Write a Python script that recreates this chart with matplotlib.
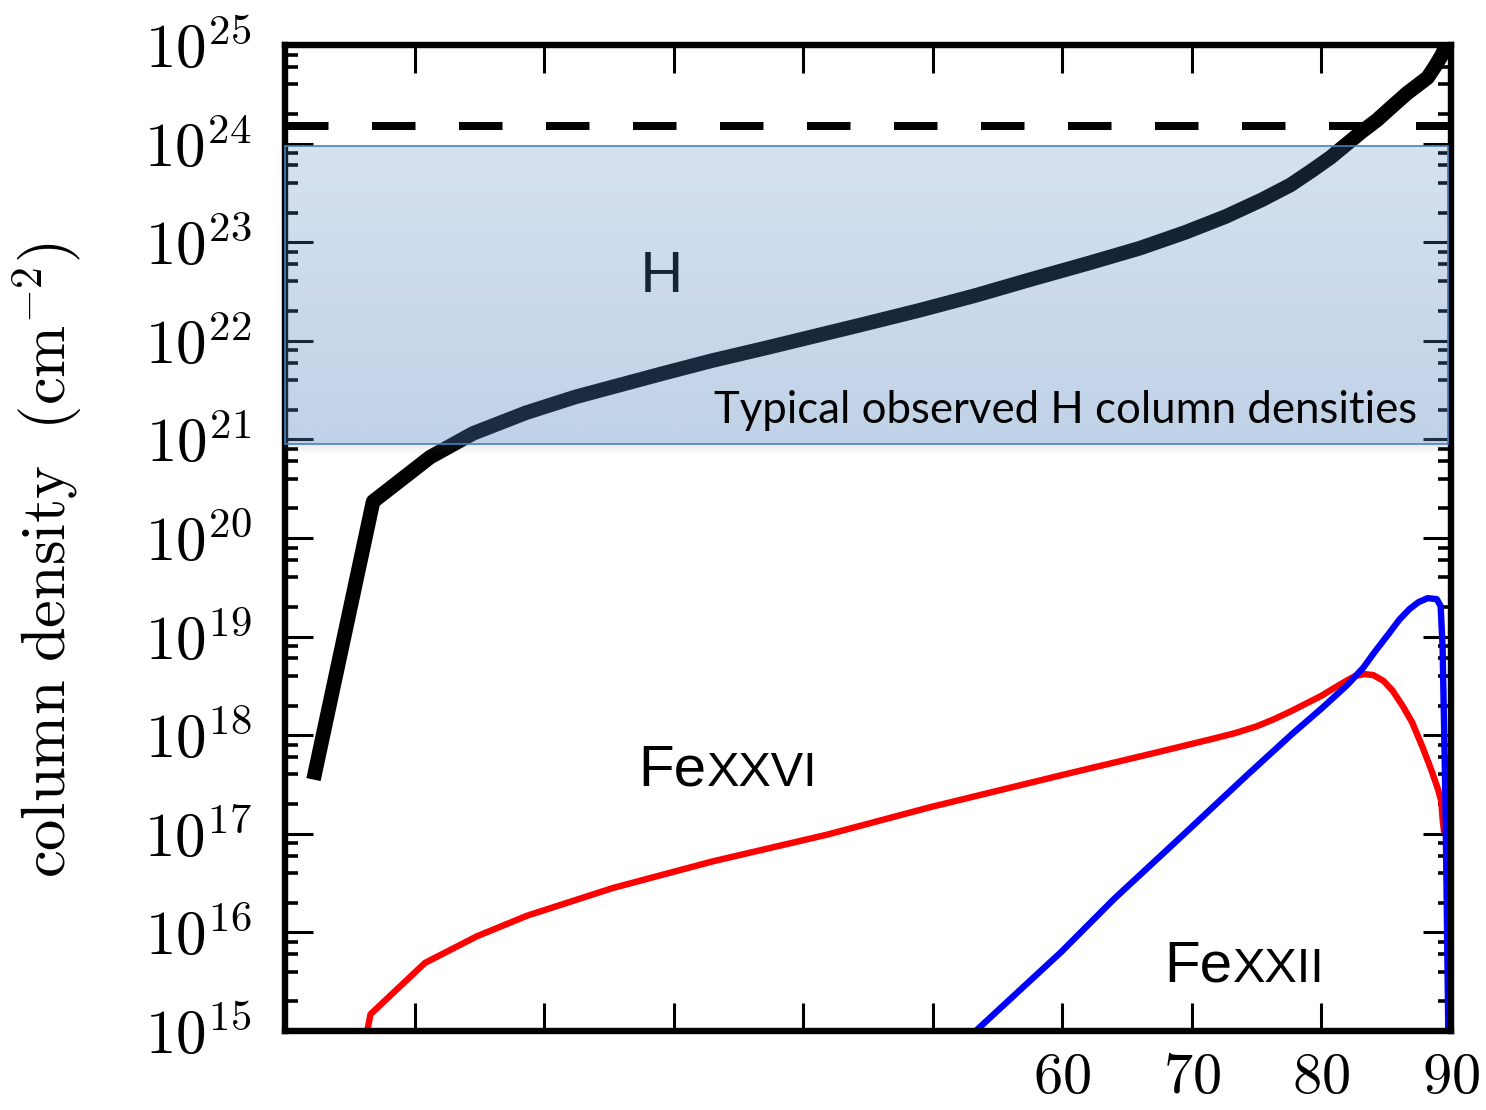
import numpy as np
import matplotlib
matplotlib.use('Agg')
import matplotlib.pyplot as plt
from matplotlib.ticker import FixedLocator, NullFormatter
from matplotlib.patches import Rectangle

plt.rcParams['mathtext.fontset'] = 'cm'

# ---------------- data ----------------
# Hydrogen column density (log10 N, cm^-2) versus angle
h_x = [2.2, 6.8, 11.2, 14.5, 18.6, 22.4, 29.2, 33.0, 37.2, 44.4, 49.0, 53.3, 57.5,
       62.1, 66.0, 69.5, 72.6, 75.4, 77.6, 79.3, 80.7, 81.9, 83.1, 84.3, 85.4,
       86.6, 87.4, 88.2, 88.8, 89.3, 89.7, 89.9]
h_logN = [17.55, 20.37, 20.82, 21.06, 21.27, 21.43, 21.67, 21.80, 21.93, 22.16,
          22.31, 22.46, 22.62, 22.79, 22.94, 23.10, 23.26, 23.43, 23.58, 23.73,
          23.86, 23.99, 24.12, 24.24, 24.37, 24.51, 24.59, 24.67, 24.79, 24.90,
          25.02, 25.3]

# Fe XXVI column density
fe26_x = [6.2, 6.6, 10.8, 14.8, 18.7, 25.3, 33.0, 41.8, 49.8, 60.1, 66.8, 71.5,
          73.3, 75.0, 76.3, 77.6, 78.8, 80.0, 81.0, 81.9, 82.6, 83.3, 84.0, 84.8,
          85.5, 86.3, 87.0, 87.8, 88.5, 89.0, 89.25, 89.35, 89.45, 89.8]
fe26_logN = [14.9, 15.17, 15.69, 15.96, 16.17, 16.45, 16.72, 16.99, 17.27, 17.60,
             17.81, 17.96, 18.02, 18.09, 18.16, 18.24, 18.32, 18.40, 18.48, 18.55,
             18.60, 18.62, 18.61, 18.55, 18.45, 18.29, 18.13, 17.88, 17.64, 17.45,
             17.33, 17.15, 17.03, 16.99]

# Fe XXII column density
fe22_x = [52.9, 55.7, 59.9, 64.0, 69.5, 74.3, 77.8, 80.0, 82.0, 83.2, 84.2, 85.2,
          86.0, 86.8, 87.5, 88.2, 88.9, 89.2, 89.35, 89.45, 89.55, 89.65, 89.8]
fe22_logN = [14.95, 15.29, 15.80, 16.34, 17.01, 17.60, 18.02, 18.27, 18.51, 18.68,
             18.86, 19.03, 19.17, 19.28, 19.35, 19.39, 19.38, 19.31, 18.90, 18.2,
             17.5, 16.53, 14.9]

# Compton-thick threshold and typical observed H range
nh_thick = 1.5e24
band_low, band_high = 9.0e20, 9.5e23
band_x = [0.0, 89.8]

x_ticks = [0, 10, 20, 30, 40, 50, 60, 70, 80, 90]
x_tick_labels = ['', '', '', '', '', '', '$60$', '$70$', '$80$', '$90$']
y_decades = list(range(15, 26))
y_tick_labels = [r'$10^{%d}$' % d for d in y_decades]

# ---------------- figure ----------------
W, H = 1486, 1110
fig = plt.figure(figsize=(W / 100, H / 100), dpi=100)
ax = fig.add_axes([285 / W, 1 - 1031 / H, (1451 - 285) / W, (1031 - 45) / H])

ax.set_yscale('log')
ax.set_xlim(0, 90)
ax.set_ylim(1e15, 1e25)

ax.plot(h_x, 10 ** np.array(h_logN), color='black', lw=10.5,
        solid_capstyle='butt', solid_joinstyle='round', zorder=2)
ax.plot(fe26_x, 10 ** np.array(fe26_logN), color='#ff0000', lw=4.6,
        solid_joinstyle='round', zorder=2)
ax.plot(fe22_x, 10 ** np.array(fe22_logN), color='#0000ff', lw=4.6,
        solid_joinstyle='round', zorder=2)

ax.axhline(nh_thick, color='black', lw=5.8, dashes=(5.4, 5.4), zorder=2)

# ticks
ax.xaxis.set_major_locator(FixedLocator(x_ticks))
ax.set_xticklabels(x_tick_labels)
ax.yaxis.set_major_locator(FixedLocator([10.0 ** d for d in y_decades]))
ax.set_yticklabels(y_tick_labels)
minors = [m * 10.0 ** d for d in y_decades[:-1] for m in (2, 4, 6, 8)]
ax.yaxis.set_minor_locator(FixedLocator(minors))
ax.yaxis.set_minor_formatter(NullFormatter())
ax.xaxis.set_minor_locator(FixedLocator([]))

ax.tick_params(axis='both', which='major', direction='in', length=20, width=2.2,
               top=True, right=True, pad=24)
ax.tick_params(axis='y', which='major', labelsize=44)
ax.tick_params(axis='x', which='major', labelsize=42, pad=12)
ax.tick_params(axis='y', which='minor', direction='in', length=9.5, width=2.6,
               left=True, right=True)
for s in ax.spines.values():
    s.set_linewidth(4.6)

fig.text(48 / W, 1 - 560 / H,
         r'$\mathrm{column\ density}\ \ (\mathrm{cm}^{-2})$',
         rotation=90, ha='center', va='center', fontsize=45)

# text under the band
ax.text(27.4, 10 ** 22.495, 'H', fontsize=41, family='Lato', ha='left',
        va='baseline', color='black', zorder=3)

# soft shadow below band
sh_n = 64
sh = np.zeros((sh_n, 1, 4))
sh[..., 0:3] = 0.45
sh[..., 3] = np.linspace(0.0, 0.16, sh_n)[:, None]
ax.imshow(sh, extent=[band_x[0], band_x[1], band_low / 10 ** 0.11, band_low],
          origin='lower', aspect='auto', interpolation='bilinear', zorder=4.9)
ax.set_xlim(0, 90)
ax.set_ylim(1e15, 1e25)

# band overlay: separate axes placed from the data coordinates of the band
fig.canvas.draw()
inv = fig.transFigure.inverted()
(x0, y0), (x1, y1) = inv.transform(ax.transData.transform(
    [(band_x[0], band_low), (band_x[1], band_high)]))
bax = fig.add_axes([x0, y0, x1 - x0, y1 - y0])
bax.set_axis_off()
n = 256
rgba = np.zeros((n, 1, 4))
rgba[..., 0] = 79 / 255
rgba[..., 1] = 129 / 255
rgba[..., 2] = 189 / 255
rgba[..., 3] = np.linspace(0.36, 0.235, n)[:, None]
bax.imshow(rgba, extent=[0, 1, 0, 1], origin='lower', aspect='auto',
           interpolation='bilinear')
bax.set_xlim(0, 1)
bax.set_ylim(0, 1)
bax.add_patch(Rectangle((0, 0), 1, 1, transform=bax.transAxes, fill=False,
                        edgecolor='#4a7ebb', lw=1.2, clip_on=False))
bax.text(33.1, 10 ** 21.166, 'Typical observed H column densities', fontsize=31.5,
         family='Lato', ha='left', va='baseline', color='black',
         transform=ax.transData, clip_on=False)

# Fe labels with small caps
def smallcaps_label(x, y, roman):
    t = ax.text(x, y, 'Fe', fontsize=42, family='Liberation Sans', ha='left',
                va='baseline', zorder=6)
    fig.canvas.draw()
    bb = t.get_window_extent()
    ax.annotate(roman, xy=(x, y), xycoords='data',
                xytext=(bb.width * 72 / fig.dpi, 0), textcoords='offset points',
                fontsize=35, family='Liberation Sans', ha='left', va='baseline',
                zorder=6)

smallcaps_label(27.3, 10 ** 17.485, 'XXVI')
smallcaps_label(67.9, 10 ** 15.497, 'XXII')

fig.savefig('out.png', dpi=100)
